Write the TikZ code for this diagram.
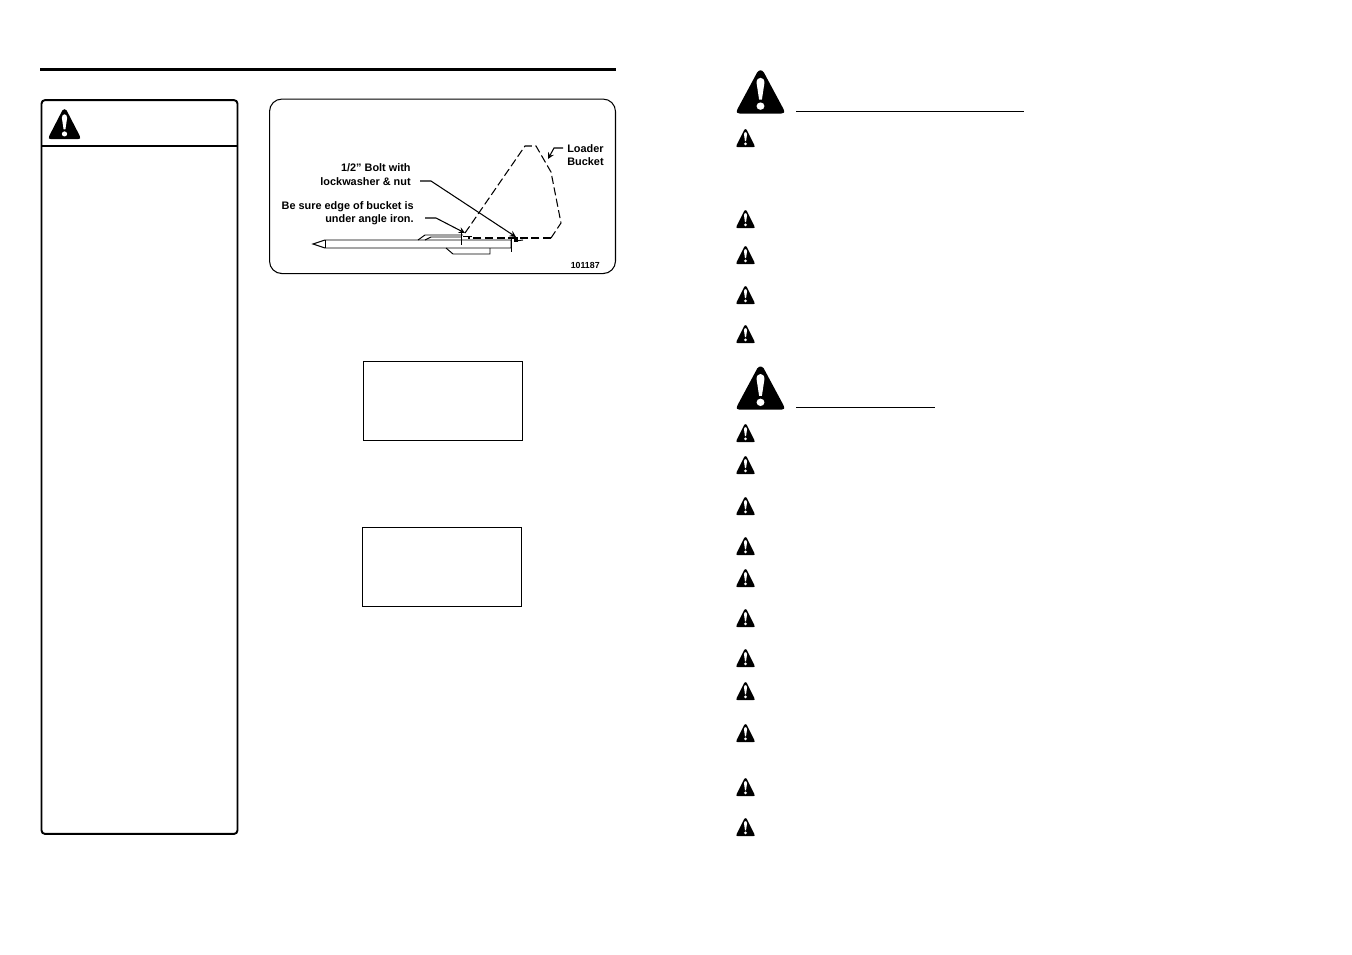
\documentclass[tikz,border=0pt]{standalone}
\usepackage{fontspec}
\setmainfont{Liberation Sans}
\usetikzlibrary{arrows}

\tikzset{
    warnsign/.pic={
        \fill[black] (-0.14,-0.9) .. controls (-0.06,-1.02) and (0.06,-1.02) .. (0.14,-0.9) -- (0.98,0.78) .. controls (1.06,0.96) and (1,1) .. (0.9,1) -- (-0.9,1) .. controls (-1,1) and (-1.06,0.96) .. (-0.98,0.78) -- cycle;
        \fill[white] (-0.17,-0.42) .. controls (-0.17,-0.72) and (0.17,-0.72) .. (0.17,-0.42) -- (0.06,0.36) -- (-0.06,0.36) -- cycle;
        \fill[white] (0,0.66) circle (0.17);
    }
}

\begin{document}
\begin{tikzpicture}[
    x=0.02cm, y=-0.02cm,
    blankbox/.style={rectangle, draw, line width=0.6pt, minimum width=3.19cm, minimum height=1.58cm, inner sep=0pt},
    callout/.style={anchor=base east, inner sep=0pt, font=\fontsize{6.2}{8}\selectfont\bfseries},
    bucketline/.style={line width=0.6pt, dash pattern=on 4.6pt off 2pt},
    leader/.style={->, >=stealth, line width=0.6pt},
    machine/.style={line width=0.55pt},
    heading/.style={line width=0.6pt}
]

\useasboundingbox (0,0) rectangle (1352,954);
\fill[white] (0,0) rectangle (1352,954);

% Rule over the left page
\draw[line width=1.8pt] (40,69.5) -- (616,69.5);

% Left panel
\node[draw, rectangle, rounded corners=2pt, line width=1.1pt, minimum width=3.92cm, minimum height=14.68cm, inner sep=0pt] (panel) at (139.5,467) {};
\coordinate (panelleft) at (41,145.7);
\coordinate (panelright) at (238,145.7);
\draw[line width=1.2pt] (panelleft) -- (panelright);
\pic[xscale=15.5,yscale=15] at (64.5,124) {warnsign};

% Bucket figure
\node[draw, rectangle, rounded corners=7pt, line width=0.6pt, minimum width=6.92cm, minimum height=3.49cm, inner sep=0pt] (figframe) at (442.5,186.3) {};

\node[callout] (boltone) at (411,171) {1/2” Bolt with};
\node[callout] (bolttwo) at (411,185) {lockwasher \& nut};
\node[callout] (edgeone) at (414,209) {Be sure edge of bucket is};
\node[callout] (edgetwo) at (414,222) {under angle iron.};
\node[callout] (loaderone) at (604,152) {Loader};
\node[callout] (loadertwo) at (604,165) {Bucket};
\node[callout, font=\fontsize{5}{6}\selectfont\bfseries] (partno) at (600,268) {101187};

% Bucket outlines
\draw[bucketline] (465,233) -- (525,146) -- (536,146) -- (551,172) -- (561,223) -- (551,238);
\draw[bucketline, line width=0.8pt] (551,238) -- (468,238);

% Tine and brackets
\draw[machine] (313,244) -- (325,240) -- (511,240) -- (511,248) -- (325,248) -- cycle;
\draw[machine] (325,240) -- (325,248);
\draw[machine] (511,237) -- (511,252);
\draw[machine] (418,240) -- (425,235) -- (463,235);
\draw[machine] (425,240) -- (431,237) -- (461,237);
\draw[machine] (461,233) -- (461,245);
\draw[machine] (446,248) -- (453,254) -- (490,254) -- (490,248);
\draw[line width=1pt] (463,236.5) -- (472,236.5);
\fill (514,237) rectangle (518,242);
\draw[machine] (516,241) -- (523,240);

% Leaders
\coordinate (boltstart) at (420,181);
\coordinate (boltbend) at (431,181);
\coordinate (boltend) at (516,237);
\coordinate (edgestart) at (425,218);
\coordinate (edgebend) at (436,218);
\coordinate (edgeend) at (465,233);
\coordinate (loaderstart) at (563,148);
\coordinate (loaderbend) at (554,148);
\coordinate (loaderend) at (548,159);
\draw[leader] (boltstart) -- (boltbend) -- (boltend);
\draw[leader] (edgestart) -- (edgebend) -- (edgeend);
\draw[leader] (loaderstart) -- (loaderbend) -- (loaderend);

% Empty boxes
\node[blankbox] (boxupper) at (443,401) {};
\node[blankbox] (boxlower) at (442,567) {};

% Right page headings
\pic[xscale=23.3,yscale=21.7] at (760.5,91.8) {warnsign};
\pic[xscale=23.3,yscale=21.7] at (760.5,388) {warnsign};
\coordinate (ruleonestart) at (796,111.5);
\coordinate (ruleoneend) at (1024,111.5);
\coordinate (ruletwostart) at (796,407.5);
\coordinate (ruletwoend) at (935,407.5);
\draw[heading] (ruleonestart) -- (ruleoneend);
\draw[heading] (ruletwostart) -- (ruletwoend);

% Small signs down the right page
\foreach \ypos in {138,219,255,295,334,433,465,506,546,578,618,658,691,733,787,827} {
    \pic[scale=9] at (745.5,\ypos) {warnsign};
}

\end{tikzpicture}
\end{document}
